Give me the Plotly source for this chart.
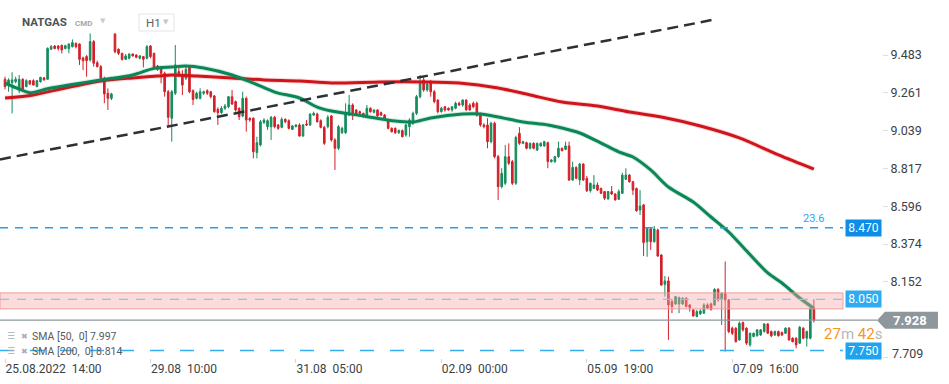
import plotly.graph_objects as go

# ---------------- data ----------------
opens = [
    9.341, 9.313, 9.321, 9.327, 9.278, 9.341, 9.298, 9.333, 9.333, 9.298,
    9.327, 9.350, 9.341, 9.517, 9.536, 9.536, 9.540, 9.521, 9.521, 9.532,
    9.552, 9.548, 9.466, 9.474, 9.454, 9.562, 9.438, 9.415, 9.347, 9.259,
    9.229, 9.607, 9.517, 9.493, 9.458, 9.464, 9.489, 9.483, 9.464, 9.474,
    9.464, 9.536, 9.493, 9.419, 9.411, 9.376, 9.268, 9.112, 9.259, 9.386,
    9.356, 9.347, 9.419, 9.274, 9.229, 9.229, 9.259, 9.274, 9.268, 9.243,
    9.165, 9.145, 9.171, 9.180, 9.239, 9.210, 9.171, 9.126, 9.229, 9.112,
    9.112, 8.911, 8.956, 9.087, 9.063, 9.063, 9.118, 9.073, 9.059, 9.106,
    9.098, 9.047, 9.063, 9.073, 9.008, 9.079, 9.073, 9.131, 9.137, 9.098,
    9.059, 9.063, 9.126, 8.985, 8.936, 9.028, 9.028, 9.131, 9.190, 9.161,
    9.151, 9.141, 9.122, 9.171, 9.147, 9.161, 9.145, 9.131, 9.102, 9.053,
    9.053, 9.028, 9.040, 9.014, 9.063, 9.083, 9.141, 9.239, 9.337, 9.278,
    9.327, 9.268, 9.219, 9.151, 9.180, 9.171, 9.161, 9.171, 9.200, 9.190,
    9.219, 9.190, 9.200, 9.200, 9.141, 9.073, 9.073, 8.975, 9.083, 8.887,
    8.711, 8.731, 8.887, 8.858, 8.731, 9.024, 8.965, 8.969, 8.936, 8.965,
    8.926, 8.950, 8.950, 8.969, 8.858, 8.858, 8.887, 8.936, 8.930, 8.950,
    8.750, 8.824, 8.750, 8.844, 8.760, 8.687, 8.701, 8.721, 8.701, 8.682,
    8.639, 8.682, 8.668, 8.637, 8.672, 8.754, 8.779, 8.740, 8.701, 8.574,
    8.604, 8.388, 8.463, 8.388, 8.457, 8.310, 8.138, 8.158, 8.037, 8.023,
    8.023, 8.023, 8.057, 8.017, 7.988, 7.949, 7.965, 7.969, 8.017, 8.023,
    8.017, 8.109, 8.051, 8.086, 8.047, 7.881, 7.881, 7.812, 7.914, 7.881,
    7.783, 7.832, 7.836, 7.841, 7.861, 7.906, 7.861, 7.841, 7.861, 7.855,
    7.851, 7.881, 7.822, 7.822, 7.793, 7.881, 7.822, 7.822, 7.998,
]
highs = [
    9.356, 9.347, 9.382, 9.356, 9.366, 9.347, 9.341, 9.337, 9.341, 9.337,
    9.356, 9.352, 9.528, 9.542, 9.542, 9.542, 9.544, 9.544, 9.552, 9.575,
    9.556, 9.552, 9.474, 9.483, 9.610, 9.571, 9.450, 9.425, 9.356, 9.288,
    9.262, 9.610, 9.522, 9.497, 9.489, 9.493, 9.493, 9.489, 9.483, 9.478,
    9.542, 9.542, 9.497, 9.425, 9.419, 9.386, 9.278, 9.278, 9.542, 9.415,
    9.395, 9.415, 9.425, 9.282, 9.268, 9.288, 9.274, 9.282, 9.272, 9.249,
    9.176, 9.184, 9.196, 9.243, 9.278, 9.216, 9.176, 9.268, 9.239, 9.118,
    9.118, 9.004, 9.102, 9.112, 9.106, 9.126, 9.126, 9.079, 9.118, 9.112,
    9.106, 9.073, 9.077, 9.083, 9.079, 9.102, 9.141, 9.151, 9.145, 9.106,
    9.067, 9.131, 9.131, 8.995, 9.073, 9.063, 9.200, 9.249, 9.200, 9.165,
    9.157, 9.145, 9.190, 9.176, 9.165, 9.165, 9.151, 9.137, 9.106, 9.059,
    9.059, 9.047, 9.047, 9.079, 9.112, 9.151, 9.249, 9.366, 9.356, 9.327,
    9.337, 9.278, 9.223, 9.180, 9.184, 9.176, 9.184, 9.210, 9.210, 9.223,
    9.223, 9.200, 9.210, 9.210, 9.145, 9.083, 9.112, 9.092, 9.092, 8.897,
    8.819, 8.956, 8.965, 8.868, 9.010, 9.060, 8.980, 8.975, 8.970, 8.972,
    8.970, 8.972, 8.980, 8.975, 8.872, 8.892, 8.975, 8.940, 8.975, 8.975,
    8.858, 8.830, 8.850, 8.848, 8.774, 8.735, 8.779, 8.736, 8.705, 8.686,
    8.686, 8.715, 8.672, 8.695, 8.793, 8.819, 8.785, 8.745, 8.705, 8.691,
    8.610, 8.470, 8.470, 8.480, 8.465, 8.315, 8.187, 8.183, 8.051, 8.070,
    8.066, 8.062, 8.062, 8.023, 7.992, 7.988, 7.992, 8.027, 8.027, 8.031,
    8.115, 8.115, 8.090, 8.272, 8.051, 7.890, 7.886, 7.920, 7.920, 7.886,
    7.855, 7.855, 7.875, 7.875, 7.910, 7.910, 7.867, 7.867, 7.867, 7.861,
    7.886, 7.886, 7.828, 7.828, 7.894, 7.886, 7.867, 8.004, 8.051,
]
lows = [
    9.282, 9.268, 9.141, 9.317, 9.259, 9.278, 9.294, 9.307, 9.305, 9.294,
    9.321, 9.333, 9.337, 9.513, 9.517, 9.509, 9.493, 9.517, 9.493, 9.528,
    9.522, 9.425, 9.395, 9.356, 9.444, 9.415, 9.411, 9.337, 9.200, 9.161,
    9.219, 9.493, 9.483, 9.450, 9.454, 9.458, 9.474, 9.464, 9.458, 9.411,
    9.458, 9.464, 9.399, 9.391, 9.317, 9.239, 9.063, 8.975, 9.249, 9.356,
    9.249, 9.337, 9.259, 9.190, 9.223, 9.223, 9.249, 9.249, 9.229, 9.145,
    9.073, 9.137, 9.161, 9.171, 9.190, 9.151, 9.102, 9.118, 9.034, 9.092,
    8.877, 8.877, 8.946, 9.079, 9.044, 8.985, 9.053, 9.044, 9.053, 9.083,
    9.047, 9.044, 9.059, 9.004, 9.004, 9.067, 9.067, 9.126, 9.087, 9.053,
    8.956, 9.053, 8.975, 8.809, 8.926, 9.020, 9.020, 9.126, 9.102, 9.131,
    9.131, 9.118, 9.118, 9.145, 9.141, 9.122, 9.126, 9.106, 9.047, 9.028,
    9.020, 9.020, 9.000, 9.004, 9.004, 9.073, 9.131, 9.229, 9.268, 9.268,
    9.239, 9.200, 9.141, 9.145, 9.151, 9.157, 9.151, 9.165, 9.184, 9.180,
    9.157, 9.157, 9.171, 9.122, 9.063, 9.053, 8.936, 8.965, 8.877, 8.633,
    8.701, 8.721, 8.838, 8.721, 8.721, 8.956, 8.960, 8.930, 8.930, 8.930,
    8.920, 8.945, 8.945, 8.819, 8.852, 8.850, 8.880, 8.918, 8.925, 8.745,
    8.745, 8.755, 8.721, 8.745, 8.680, 8.676, 8.697, 8.685, 8.668, 8.633,
    8.635, 8.662, 8.630, 8.633, 8.668, 8.750, 8.734, 8.662, 8.564, 8.545,
    8.304, 8.300, 8.340, 8.383, 8.300, 8.130, 8.066, 7.812, 7.969, 8.017,
    7.969, 8.017, 8.004, 7.978, 7.949, 7.945, 7.959, 7.965, 7.992, 7.984,
    8.012, 8.037, 7.900, 7.744, 7.851, 7.841, 7.797, 7.808, 7.861, 7.783,
    7.773, 7.828, 7.832, 7.836, 7.855, 7.847, 7.828, 7.836, 7.832, 7.836,
    7.847, 7.808, 7.797, 7.763, 7.789, 7.816, 7.773, 7.816, 7.914,
]
closes = [
    9.298, 9.337, 9.337, 9.341, 9.341, 9.282, 9.333, 9.313, 9.307, 9.333,
    9.352, 9.337, 9.522, 9.532, 9.521, 9.522, 9.513, 9.538, 9.548, 9.556,
    9.532, 9.458, 9.450, 9.450, 9.562, 9.435, 9.415, 9.347, 9.255, 9.229,
    9.255, 9.503, 9.493, 9.458, 9.478, 9.489, 9.478, 9.470, 9.478, 9.458,
    9.532, 9.474, 9.411, 9.399, 9.376, 9.268, 9.118, 9.268, 9.425, 9.366,
    9.307, 9.399, 9.268, 9.223, 9.259, 9.268, 9.268, 9.259, 9.239, 9.151,
    9.145, 9.171, 9.184, 9.239, 9.196, 9.161, 9.122, 9.229, 9.102, 9.102,
    8.916, 8.969, 9.092, 9.102, 9.098, 9.118, 9.063, 9.053, 9.106, 9.092,
    9.053, 9.067, 9.073, 9.008, 9.073, 9.073, 9.137, 9.141, 9.092, 9.059,
    8.965, 9.118, 8.985, 8.936, 9.063, 9.053, 9.141, 9.190, 9.141, 9.137,
    9.141, 9.122, 9.171, 9.151, 9.161, 9.126, 9.131, 9.112, 9.053, 9.034,
    9.028, 9.040, 9.004, 9.073, 9.102, 9.141, 9.239, 9.317, 9.278, 9.313,
    9.268, 9.210, 9.151, 9.171, 9.161, 9.161, 9.180, 9.200, 9.190, 9.219,
    9.161, 9.161, 9.180, 9.131, 9.073, 9.063, 8.975, 9.083, 8.887, 8.711,
    8.789, 8.887, 8.848, 8.731, 9.000, 8.965, 8.975, 8.936, 8.965, 8.936,
    8.965, 8.965, 8.975, 8.858, 8.868, 8.887, 8.936, 8.922, 8.950, 8.750,
    8.824, 8.760, 8.844, 8.750, 8.687, 8.731, 8.721, 8.691, 8.672, 8.643,
    8.682, 8.668, 8.633, 8.682, 8.779, 8.779, 8.740, 8.691, 8.570, 8.598,
    8.383, 8.467, 8.388, 8.463, 8.304, 8.134, 8.158, 8.017, 8.008, 8.066,
    8.060, 8.057, 8.008, 8.002, 7.953, 7.978, 7.982, 8.017, 7.998, 7.992,
    8.109, 8.047, 8.086, 8.047, 7.861, 7.851, 7.802, 7.910, 7.871, 7.793,
    7.851, 7.851, 7.871, 7.871, 7.906, 7.851, 7.836, 7.861, 7.836, 7.841,
    7.881, 7.812, 7.802, 7.783, 7.886, 7.822, 7.861, 7.998, 7.928,
]
candle_idx = list(range(len(closes)))

sma50_idx = [0, 3, 7, 12, 18, 27, 36, 42, 47, 51, 56, 64, 70, 76, 83, 88, 92,
             101, 110, 115, 120, 129, 134, 139, 146, 153, 157, 162, 168, 173,
             177, 182, 187, 194, 199, 204, 208, 215, 219, 224, 228]
sma50_val = [9.319, 9.292, 9.262, 9.285, 9.307, 9.337, 9.366, 9.405, 9.413,
             9.419, 9.407, 9.366, 9.319, 9.266, 9.231, 9.178, 9.155, 9.126,
             9.096, 9.090, 9.114, 9.137, 9.137, 9.120, 9.090, 9.073, 9.055,
             9.026, 8.967, 8.915, 8.885, 8.809, 8.709, 8.621, 8.533, 8.445,
             8.357, 8.205, 8.146, 8.058, 7.997]

sma200_idx = [0, 8, 17, 27, 36, 43, 47, 54, 64, 73, 83, 92, 106, 118, 128,
              139, 148, 157, 167, 176, 185, 196, 207, 218, 228]
sma200_val = [9.231, 9.249, 9.290, 9.331, 9.349, 9.360, 9.366, 9.360, 9.349,
              9.337, 9.331, 9.319, 9.325, 9.325, 9.319, 9.290, 9.249, 9.208,
              9.184, 9.149, 9.120, 9.067, 8.997, 8.897, 8.814]

trend_idx = [-1.41, 200.1]
trend_val = [8.871, 9.692]

fib_level = 8.470
fib_label = "23.6"
zone_mid = 8.050
zone_low = 7.994
zone_high = 8.088
support_level = 7.750
last_price = closes[-1]

ytick_vals = [9.483, 9.261, 9.039, 8.817, 8.596, 8.374, 8.152, 7.709]
xtick_idx = [0, 41, 82, 123, 164, 205]
xtick_text = ["25.08.2022\u00a0 14:00", "29.08\u00a0 10:00", "31.08\u00a0 05:00",
              "02.09\u00a0 00:00", "05.09\u00a0 19:00", "07.09\u00a0 16:00"]

# ---------------- layout helpers ----------------
W, H = 949, 384
PR, PB = 882, 358
def px(x):
    return x / PR
def py(y):
    return 1 - y / PB

GREEN = "#178c5c"
RED = "#d3202a"
FONT = "Roboto"

fig = go.Figure()

fig.add_trace(go.Candlestick(
    x=candle_idx, open=opens, high=highs, low=lows, close=closes,
    increasing=dict(line=dict(color=GREEN, width=1), fillcolor=GREEN),
    decreasing=dict(line=dict(color=RED, width=1), fillcolor=RED),
    whiskerwidth=0, hoverinfo="skip", showlegend=False,
))

for xs, ys, col, halo in [(sma200_idx, sma200_val, "#d0141c", "rgba(220,40,40,0.18)"),
                          (sma50_idx, sma50_val, "#0b8657", "rgba(20,140,90,0.18)")]:
    fig.add_trace(go.Scatter(x=xs, y=ys, mode="lines",
                             line=dict(color=halo, width=5, shape="spline", smoothing=0.8),
                             hoverinfo="skip", showlegend=False))
    fig.add_trace(go.Scatter(x=xs, y=ys, mode="lines",
                             line=dict(color=col, width=3, shape="spline", smoothing=0.8),
                             hoverinfo="skip", showlegend=False))

fig.add_trace(go.Scatter(x=trend_idx, y=trend_val, mode="lines",
                         line=dict(color="#2b3136", width=2.5, dash="11px,6px"),
                         hoverinfo="skip", showlegend=False))

shapes = []
xr = px(843)
# resistance zone
shapes.append(dict(type="rect", xref="paper", yref="y", x0=0, x1=xr, y0=zone_low, y1=zone_high,
                   fillcolor="rgba(246,170,170,0.42)", line=dict(color="rgba(238,150,150,0.9)", width=1),
                   layer="above"))
shapes.append(dict(type="line", xref="paper", yref="y", x0=0, x1=xr, y0=zone_mid, y1=zone_mid,
                   line=dict(color="#8cc4ec", width=1.3, dash="9px,8px"), layer="above"))
shapes.append(dict(type="line", xref="paper", yref="y", x0=0, x1=xr, y0=fib_level, y1=fib_level,
                   line=dict(color="#1ea2ee", width=1.3, dash="8px,7px"), layer="above"))
shapes.append(dict(type="line", xref="paper", yref="y", x0=0, x1=xr, y0=support_level, y1=support_level,
                   line=dict(color="#33aef0", width=1.5, dash="14px,16px"), layer="above"))
shapes.append(dict(type="line", xref="paper", yref="y", x0=0, x1=px(877), y0=last_price, y1=last_price,
                   line=dict(color="#8d979c", width=1.2), layer="above"))
# current price tag
shapes.append(dict(type="path", xref="paper", yref="y", xsizemode="pixel", ysizemode="pixel",
                   xanchor=px(882), yanchor=last_price,
                   path="M -5 0 L 3 8.5 L 56 8.5 L 56 -8.5 L 3 -8.5 Z",
                   fillcolor="#8d979c", line=dict(width=0), layer="above"))
# H1 box
shapes.append(dict(type="rect", xref="paper", yref="paper", x0=px(139), x1=px(174),
                   y0=py(31), y1=py(14), line=dict(color="#e3e5e8", width=1),
                   fillcolor="white", layer="above"))

ann = []
def box(level, text, color):
    ann.append(dict(xref="paper", yref="y", x=px(863), y=level, text=text, showarrow=False,
                    font=dict(family=FONT, size=12, color="white"), bgcolor=color,
                    width=33, height=14, borderpad=1, xanchor="center", yanchor="middle"))

box(fib_level, f"{fib_level:.3f}", "#0c8de8")
box(zone_mid, f"{zone_mid:.3f}", "#2fabef")
box(support_level, f"{support_level:.3f}", "#1fa3ee")
ann.append(dict(xref="paper", yref="y", x=px(826), y=fib_level, yshift=9, text=fib_label,
                showarrow=False, font=dict(family=FONT, size=11, color="#2aa6f0")))
ann.append(dict(xref="paper", yref="y", x=px(910), y=last_price, text=f"<b>{last_price:.3f}</b>",
                showarrow=False, font=dict(family=FONT, size=13, color="white"),
                xanchor="center", yanchor="middle"))
ann.append(dict(xref="paper", yref="paper", x=px(822), y=py(334),
                text="<span style='color:#f5961f'>27</span>m <span style='color:#f5961f'>42</span>s",
                showarrow=False, xanchor="left", yanchor="middle",
                font=dict(family=FONT, size=15, color="#b4b8bb")))
# bottom price label positioned as in the reference
ann.append(dict(xref="paper", yref="paper", x=px(890), y=py(353), text=f"{ytick_vals[-1]:.3f}",
                showarrow=False, xanchor="left", yanchor="middle",
                font=dict(family=FONT, size=12.5, color="#3c4146")))
# header
ann.append(dict(xref="paper", yref="paper", x=px(20), y=py(22), text="<b>NATGAS</b>",
                showarrow=False, xanchor="left", yanchor="middle",
                font=dict(family=FONT, size=11.5, color="#4b535b")))
ann.append(dict(xref="paper", yref="paper", x=px(73), y=py(23), text="<b>CMD</b>",
                showarrow=False, xanchor="left", yanchor="middle",
                font=dict(family=FONT, size=8, color="#a3a8ad")))
ann.append(dict(xref="paper", yref="paper", x=px(103), y=py(21), text="▼",
                showarrow=False, xanchor="center", yanchor="middle",
                font=dict(family="DejaVu Sans", size=7, color="#c9cdd1")))
ann.append(dict(xref="paper", yref="paper", x=px(144), y=py(23), text="H1",
                showarrow=False, xanchor="left", yanchor="middle",
                font=dict(family=FONT, size=11.5, color="#5b6268")))
ann.append(dict(xref="paper", yref="paper", x=px(166), y=py(22), text="▼",
                showarrow=False, xanchor="center", yanchor="middle",
                font=dict(family="DejaVu Sans", size=7, color="#c3c7cb")))
# indicator legend
for yy, lbl in [(336, f"SMA [50,\u00a0 0] {sma50_val[-1]:.3f}"), (351, f"SMA [200,\u00a0 0] {sma200_val[-1]:.3f}")]:
    ann.append(dict(xref="paper", yref="paper", x=px(5), y=py(yy), text="☰",
                    showarrow=False, xanchor="left", yanchor="middle",
                    font=dict(family="DejaVu Sans", size=9, color="#a9aeb2")))
    ann.append(dict(xref="paper", yref="paper", x=px(19), y=py(yy), text="✖",
                    showarrow=False, xanchor="left", yanchor="middle",
                    font=dict(family="DejaVu Sans", size=8, color="#a9aeb2")))
    ann.append(dict(xref="paper", yref="paper", x=px(30), y=py(yy), text=lbl,
                    showarrow=False, xanchor="left", yanchor="middle",
                    font=dict(family=FONT, size=10.5, color="#555b60")))

fig.update_layout(
    width=W, height=H, autosize=False,
    margin=dict(l=0, r=W - PR, t=0, b=H - PB),
    paper_bgcolor="white", plot_bgcolor="white",
    font=dict(family=FONT),
    showlegend=False, boxgap=0.35,
    shapes=shapes, annotations=ann,
    xaxis=dict(range=[-1.41, 247.2], rangeslider=dict(visible=False), showgrid=False,
               zeroline=False, showline=False, tickmode="array", tickvals=xtick_idx,
               ticktext=xtick_text, ticks="outside", ticklen=4, tickcolor="#d5d8db",
               ticklabelposition="outside right",
               tickfont=dict(family=FONT, size=12, color="#3c4146")),
    yaxis=dict(range=[7.706, 9.806], side="right", showgrid=False, zeroline=False,
               showline=False, tickmode="array", tickvals=ytick_vals,
               ticktext=[f"{v:.3f}" for v in ytick_vals[:-1]] + [""], ticks="outside", ticklen=5,
               tickcolor="#dcdfe2", tickfont=dict(family=FONT, size=12.5, color="#3c4146")),
)

fig.write_html("out.html", config={"displayModeBar": False},
               post_script="document.body.style.margin='0';document.body.style.overflow='hidden';")
